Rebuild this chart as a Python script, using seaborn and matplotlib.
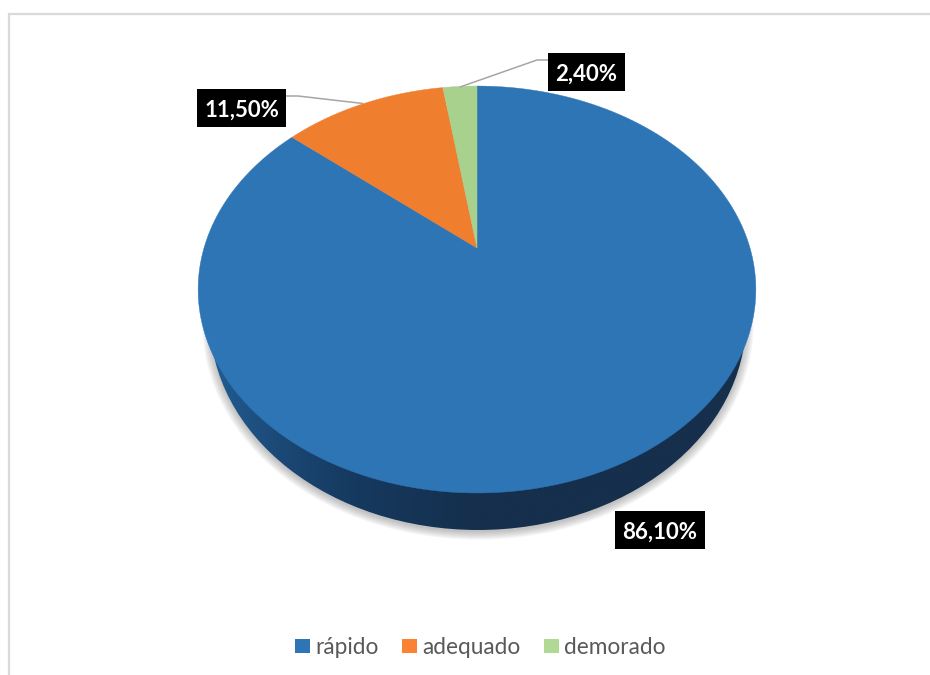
import numpy as np
import matplotlib
matplotlib.use('Agg')
import matplotlib.pyplot as plt
import seaborn as sns
from matplotlib.patches import Ellipse, Polygon, Patch, Rectangle
from matplotlib.colors import LinearSegmentedColormap

categories = ['rápido', 'adequado', 'demorado']
values = [86.1, 11.5, 2.4]
value_labels = ['86,10%', '11,50%', '2,40%']
slice_colors = ['#2e75b6', '#f07e2f', '#a9d18e']
legend_colors = ['#2e75b6', '#f98233', '#b0da94']

sns.set_theme(style='white')
plt.rcParams['font.family'] = ['Lato', 'DejaVu Sans']

fig, ax = plt.subplots(figsize=(9.3, 6.75), dpi=100)
fig.subplots_adjust(left=0, right=1, top=1, bottom=0)

# the pie gives the slice angles, then they get tilted like the 3d pie
wedges, _ = ax.pie(values, colors=sns.color_palette(slice_colors), startangle=90,
                   counterclock=False)
ax.set_aspect('auto')
ax.set_xlim(0, 930)
ax.set_ylim(675, 0)
ax.axis('off')


def tilt(x, y):
    w = 1 + 0.204 * y
    return 477 + 273 * x / w, 248 - 195 * y / w


# soft shadow under the disc
for i in range(8):
    ax.add_patch(Ellipse((478, 322 + i * 0.3), 2 * (268 + i * 1.1), 2 * (210 + i * 0.8),
                         fc='#555555', ec='none', alpha=0.05, zorder=1))

# side of the disc
side = Ellipse((478, 320), 2 * 268, 2 * 210, fc='none', ec='none', zorder=2)
ax.add_patch(side)
cmap = LinearSegmentedColormap.from_list('side', [(0, '#215c92'), (0.15, '#1a4672'), (0.26, '#163a60'),
                                                  (0.5, '#152f4c'), (1, '#152f4c')])
img = ax.imshow(np.linspace(0, 1, 256).reshape(1, -1), cmap=cmap, aspect='auto',
                extent=(210, 746, 540, 300), zorder=2)
img.set_clip_path(side)
ax.set_xlim(0, 930)
ax.set_ylim(675, 0)

# top of the disc
for wedge, color in zip(wedges, slice_colors):
    theta = np.radians(np.linspace(wedge.theta1, wedge.theta2, 300))
    xs, ys = tilt(np.cos(theta), np.sin(theta))
    pts = np.column_stack([np.r_[477, xs], np.r_[248, ys]])
    ax.add_patch(Polygon(pts, closed=True, fc=color, ec=color, lw=0.3, zorder=3))
    wedge.remove()

# frame of the chart area
ax.plot([8.5, 8.5, 930], [675, 13.5, 13.5], color='#d9d9d9', lw=1.6, zorder=1, solid_joinstyle='miter')

# leader lines
ax.plot([460, 537, 548], [87, 60, 60], color='#a6a6a6', lw=1.1, zorder=4)
ax.plot([363, 298, 286], [103.5, 96, 96], color='#a6a6a6', lw=1.1, zorder=4)

label_boxes = [(615, 511, 90, 38), (197, 89, 89, 38), (548, 53, 77, 38)]
for text, (bx, by, bw, bh) in zip(value_labels, label_boxes):
    ax.add_patch(Rectangle((bx, by), bw, bh, fc='black', ec='none', zorder=5))
    ax.text(bx + bw / 2, by + bh / 2 + 2, text, color='white', fontsize=16, fontweight='bold',
            ha='center', va='center', zorder=6)

handles = [Patch(fc=c, ec='none', label=n) for c, n in zip(legend_colors, categories)]
ax.legend(handles=handles, loc='center', bbox_to_anchor=(480.5 / 930, 1 - 647.5 / 675), ncol=3,
          frameon=False, fontsize=16.3, labelcolor='#595959', handlelength=0.63, handleheight=0.63,
          handletextpad=0.25, columnspacing=1.05)

fig.savefig('out.png', dpi=100)
